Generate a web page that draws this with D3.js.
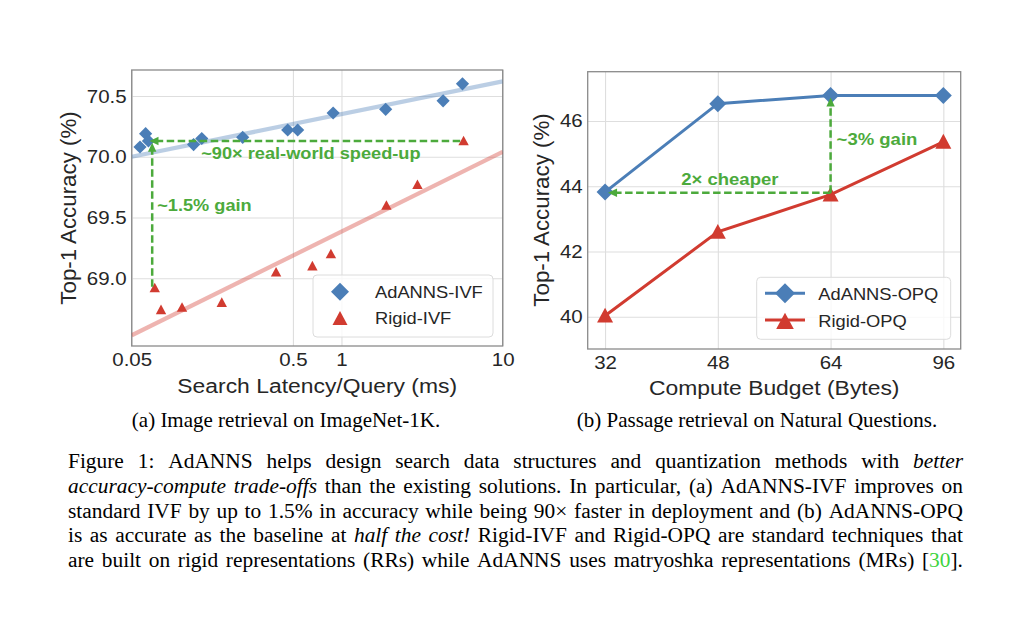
<!DOCTYPE html>
<html><head><meta charset="utf-8">
<script src="https://cdn.jsdelivr.net/npm/d3@7"></script>
<style>body{margin:0;background:#fff}svg{display:block}</style>
</head><body>
<svg id="fig" width="1024" height="623"></svg>
<script>
// ---------- data: (a) ImageNet-1K IVF ----------
const adannsIvfLatency = [0.0563, 0.061, 0.0635, 0.121, 0.136, 0.244, 0.464, 0.535, 0.888, 1.88, 4.27, 5.63];
const adannsIvfAcc     = [70.08, 70.19, 70.13, 70.10, 70.15, 70.16, 70.22, 70.22, 70.36, 70.39, 70.46, 70.60];
const rigidIvfLatency  = [0.0695, 0.076, 0.1026, 0.181, 0.393, 0.66, 0.86, 1.90, 2.96, 5.72];
const rigidIvfAcc      = [68.92, 68.74, 68.76, 68.80, 69.05, 69.10, 69.20, 69.60, 69.77, 70.13];
const trendLatency     = [0.05, 10];
const adannsIvfTrend   = [70.0, 70.62];
const rigidIvfTrend    = [68.53, 70.04];
const latencyTicks     = [0.05, 0.5, 1, 10];
const latencyTickLabels = ["0.05", "0.5", "1", "10"];
const ivfAccTicks      = [69.0, 69.5, 70.0, 70.5];
const ivfSpeedArrow    = {from: [5.45, 70.13], to: [0.0645, 70.13]};
const ivfGainArrow     = {from: [0.067, 68.93], to: [0.067, 70.115]};
// ---------- data: (b) Natural Questions OPQ ----------
const budgets          = [32, 48, 64, 96];
const adannsOpqAcc     = [43.82, 46.53, 46.78, 46.78];
const rigidOpqAcc      = [40.03, 42.60, 43.74, 45.36];
const opqAccTicks      = [40, 42, 44, 46];
const opqCheapArrow    = {from: [64, 43.8], to: [32, 43.8]};
const opqGainArrow     = {from: [64, 43.8], to: [64, 46.78]};
// ---------- text ----------
const seriesNamesA = ["AdANNS-IVF", "Rigid-IVF"];
const seriesNamesB = ["AdANNS-OPQ", "Rigid-OPQ"];
const subCaptions = ["(a) Image retrieval on ImageNet-1K.", "(b) Passage retrieval on Natural Questions."];
const captionLines = [
  [["Figure 1: AdANNS helps design search data structures and quantization methods with ", "n"], ["better", "i"]],
  [["accuracy-compute trade-offs", "i"], [" than the existing solutions. In particular, (a) AdANNS-IVF improves on", "n"]],
  [["standard IVF by up to 1.5% in accuracy while being 90× faster in deployment and (b) AdANNS-OPQ", "n"]],
  [["is as accurate as the baseline at ", "n"], ["half the cost!", "i"], [" Rigid-IVF and Rigid-OPQ are standard techniques that", "n"]],
  [["are built on rigid representations (RRs) while AdANNS uses matryoshka representations (MRs) [", "n"], ["30", "g"], ["].", "n"]]
];

// ---------- style ----------
const BLUE = "#4b7eb7", RED = "#d13b30", GREEN = "#4caa3c", LINK = "#3fd43f";
const TXT = "#262626", GRID = "#dedede", FRAME = "#8a8a8a";
const SANS = "'Liberation Sans', Arial, sans-serif", SERIF = "'Liberation Serif', 'Times New Roman', serif";
const SX = 1.09;      // horizontal glyph stretch of chart text
const SXS = 1.07;     // horizontal glyph stretch of caption text

const svg = d3.select("#fig");
svg.append("rect").attr("width", 1024).attr("height", 623).attr("fill", "#fff");

function txt(g, x, y, s, o = {}) {
  return g.append("text").attr("transform", `translate(${x},${y}) scale(${o.sx || SX},1)`)
    .attr("text-anchor", o.anchor || "start").attr("font-family", o.family || SANS)
    .attr("font-size", o.fs || 16.8).attr("font-weight", o.bold ? "bold" : null)
    .attr("fill", o.fill || TXT).text(s);
}

// custom marker types for d3.symbol (size = radius)
const symDiamond = {draw(c, r){ c.moveTo(0,-r); c.lineTo(r,0); c.lineTo(0,r); c.lineTo(-r,0); c.closePath(); }};
const symTriangle = {draw(c, r){ c.moveTo(0,-r); c.lineTo(r,r*0.85); c.lineTo(-r,r*0.85); c.closePath(); }};
const diamondPath = r => d3.symbol().type(symDiamond).size(r)();
const trianglePath = r => d3.symbol().type(symTriangle).size(r)();

function frameAndGrid(g, box, xs, ys, xTickVals, xFmt, yTickVals, yFmt, fs) {
  const w = box.x1 - box.x0, h = box.y1 - box.y0;
  const gy = g.append("g").attr("transform", `translate(${box.x0},0)`)
    .call(d3.axisLeft(ys).tickValues(yTickVals).tickFormat(yFmt).tickSizeInner(-w).tickSizeOuter(0).tickPadding(4.6));
  const gx = g.append("g").attr("transform", `translate(0,${box.y1})`)
    .call(d3.axisBottom(xs).tickValues(xTickVals).tickFormat(xFmt).tickSizeInner(-h).tickSizeOuter(0).tickPadding(6.7));
  [gx, gy].forEach(a => {
    a.select(".domain").remove();
    a.selectAll(".tick line").attr("stroke", GRID).attr("stroke-width", 1.1);
    a.selectAll(".tick text").attr("fill", TXT).attr("font-family", SANS).attr("font-size", fs)
      .attr("transform", `scale(${SX},1)`);
  });
  g.append("rect").attr("x", box.x0).attr("y", box.y0).attr("width", w).attr("height", h)
    .attr("fill", "none").attr("stroke", FRAME).attr("stroke-width", 1.3);
}

function arrow(g, p0, p1, shrinkStart, shrinkEnd) {
  const dx = p1[0]-p0[0], dy = p1[1]-p0[1], L = Math.hypot(dx, dy), ux = dx/L, uy = dy/L;
  const a = [p0[0]+ux*shrinkStart, p0[1]+uy*shrinkStart];
  const tip = [p1[0]-ux*shrinkEnd, p1[1]-uy*shrinkEnd];
  const hl = 9, hw = 4.2;
  const base = [tip[0]-ux*hl, tip[1]-uy*hl];
  g.append("line").attr("x1", a[0]).attr("y1", a[1]).attr("x2", base[0]+ux*2).attr("y2", base[1]+uy*2)
    .attr("stroke", GREEN).attr("stroke-width", 2.5).attr("stroke-dasharray", "7.5,3.5");
  g.append("path").attr("d", `M${tip[0]},${tip[1]}L${base[0]-uy*hw},${base[1]+ux*hw}L${base[0]+uy*hw},${base[1]-ux*hw}Z`)
    .attr("fill", GREEN);
}

// ================= (a) =================
const A = {x0: 131.7, x1: 502.7, y0: 70, y1: 346};
const xA = d3.scaleLog().domain([0.05, 10]).range([A.x0, A.x1]);
const yA = d3.scaleLinear().domain([68.442, 70.714]).range([A.y1, A.y0]);
const gA = svg.append("g");
frameAndGrid(gA, A, xA, yA, latencyTicks, (d,i) => latencyTickLabels[i], ivfAccTicks, d3.format(".1f"), 18.8);
gA.append("clipPath").attr("id", "clipA").append("rect")
  .attr("x", A.x0).attr("y", A.y0).attr("width", A.x1-A.x0).attr("height", A.y1-A.y0);
const lineA = d3.line().x(d => xA(d[0])).y(d => yA(d[1]));
gA.append("path").attr("clip-path", "url(#clipA)").attr("d", lineA(d3.zip(trendLatency, adannsIvfTrend)))
  .attr("stroke", BLUE).attr("stroke-opacity", 0.38).attr("stroke-width", 4.2).attr("fill", "none");
gA.append("path").attr("clip-path", "url(#clipA)").attr("d", lineA(d3.zip(trendLatency, rigidIvfTrend)))
  .attr("stroke", RED).attr("stroke-opacity", 0.38).attr("stroke-width", 4.2).attr("fill", "none");
gA.selectAll(".ad").data(d3.zip(adannsIvfLatency, adannsIvfAcc)).join("path")
  .attr("transform", d => `translate(${xA(d[0])},${yA(d[1])})`).attr("d", diamondPath(6.6)).attr("fill", BLUE);
gA.selectAll(".rg").data(d3.zip(rigidIvfLatency, rigidIvfAcc)).join("path")
  .attr("transform", d => `translate(${xA(d[0])},${yA(d[1])})`).attr("d", trianglePath(5.2)).attr("fill", RED);
arrow(gA, [xA(ivfSpeedArrow.from[0]), yA(ivfSpeedArrow.from[1])], [xA(ivfSpeedArrow.to[0]), yA(ivfSpeedArrow.to[1])], 0, 0);
arrow(gA, [xA(ivfGainArrow.from[0]), yA(ivfGainArrow.from[1])], [xA(ivfGainArrow.to[0]), yA(ivfGainArrow.to[1])], 0, 0);
txt(gA, xA(ivfGainArrow.to[0]) + 49, yA(ivfSpeedArrow.to[1]) + 18, "~90× real-world speed-up", {fs: 16.7, bold: true, fill: GREEN});
txt(gA, xA(ivfGainArrow.to[0]) + 5, 210.5, "~1.5% gain", {fs: 16.7, bold: true, fill: GREEN});
txt(gA, (A.x0+A.x1)/2, 393, "Search Latency/Query (ms)", {fs: 21, anchor: "middle"});
gA.append("text").attr("transform", "translate(75.5,208) rotate(-90)").attr("text-anchor", "middle")
  .attr("font-family", SANS).attr("font-size", 22.3).attr("fill", TXT).text("Top-1 Accuracy (%)");
const legA = gA.append("g");
legA.append("rect").attr("x", 313).attr("y", 275).attr("width", 180).attr("height", 62).attr("rx", 4)
  .attr("fill", "#fff").attr("fill-opacity", 0.8).attr("stroke", "#dcdcdc").attr("stroke-width", 1);
legA.append("path").attr("transform", "translate(340,291.7)").attr("d", diamondPath(9)).attr("fill", BLUE);
legA.append("path").attr("transform", "translate(340,318.5)").attr("d", trianglePath(7.5)).attr("fill", RED);
seriesNamesA.forEach((n, i) => txt(legA, 375, 298.3 + i*25.5, n, {fs: 16.8}));

// ================= (b) =================
const B = {x0: 587.7, x1: 960.7, y0: 71.7, y1: 349};
const xB = d3.scaleLinear().domain([-0.154, 3.154]).range([B.x0, B.x1]);
const bx = v => xB(budgets.indexOf(v));
const yB = d3.scaleLinear().domain([39.01, 47.51]).range([B.y1, B.y0]);
const gB = svg.append("g");
frameAndGrid(gB, B, xB, yB, d3.range(budgets.length), i => budgets[i], opqAccTicks, d3.format("d"), 18.8);
const lineB = d3.line().x(d => bx(d[0])).y(d => yB(d[1]));
gB.append("path").attr("d", lineB(d3.zip(budgets, adannsOpqAcc))).attr("stroke", BLUE).attr("stroke-width", 3).attr("fill", "none");
gB.append("path").attr("d", lineB(d3.zip(budgets, rigidOpqAcc))).attr("stroke", RED).attr("stroke-width", 3).attr("fill", "none");
gB.selectAll(".ad").data(d3.zip(budgets, adannsOpqAcc)).join("path")
  .attr("transform", d => `translate(${bx(d[0])},${yB(d[1])})`).attr("d", diamondPath(8.5)).attr("fill", BLUE);
gB.selectAll(".rg").data(d3.zip(budgets, rigidOpqAcc)).join("path")
  .attr("transform", d => `translate(${bx(d[0])},${yB(d[1])})`).attr("d", trianglePath(8)).attr("fill", RED);
arrow(gB, [bx(opqCheapArrow.from[0]), yB(opqCheapArrow.from[1])], [bx(opqCheapArrow.to[0]), yB(opqCheapArrow.to[1])], 0, 3);
arrow(gB, [bx(opqGainArrow.from[0]), yB(opqGainArrow.from[1])], [bx(opqGainArrow.to[0]), yB(opqGainArrow.to[1])], 0, 2);
txt(gB, (bx(32)+bx(64))/2 + 12, yB(opqCheapArrow.to[1]) - 8, "2× cheaper", {fs: 17, bold: true, fill: GREEN, anchor: "middle"});
txt(gB, bx(64) + 6, 145, "~3% gain", {fs: 17, bold: true, fill: GREEN});
txt(gB, (B.x0+B.x1)/2, 395, "Compute Budget (Bytes)", {fs: 21, anchor: "middle"});
gB.append("text").attr("transform", "translate(548.5,210) rotate(-90)").attr("text-anchor", "middle")
  .attr("font-family", SANS).attr("font-size", 22.3).attr("fill", TXT).text("Top-1 Accuracy (%)");
const legB = gB.append("g");
legB.append("rect").attr("x", 756.7).attr("y", 277.3).attr("width", 194).attr("height", 62).attr("rx", 4)
  .attr("fill", "#fff").attr("fill-opacity", 0.8).attr("stroke", "#dcdcdc").attr("stroke-width", 1);
[[BLUE, diamondPath(10)], [RED, trianglePath(8.8)]].forEach(([c, p], i) => {
  const yy = 293.3 + i*26.7;
  legB.append("line").attr("x1", 765).attr("x2", 805).attr("y1", yy).attr("y2", yy).attr("stroke", c).attr("stroke-width", 3);
  legB.append("path").attr("transform", `translate(785,${yy + (i ? 1.5 : 0)})`).attr("d", p).attr("fill", c);
  txt(legB, 818.3, yy + 6.8, seriesNamesB[i], {fs: 16.8});
});

// ================= captions =================
txt(svg, 286, 427, subCaptions[0], {family: SERIF, fs: 20, sx: 1.05, anchor: "middle", fill: "#000"});
txt(svg, 757, 427, subCaptions[1], {family: SERIF, fs: 20, sx: 1.05, anchor: "middle", fill: "#000"});

function justifyLine(g, segs, x0, x1, y, fs) {
  const words = []; let cur = [];
  segs.forEach(([t, st]) => {
    t.split(" ").forEach((p, i) => {
      if (i > 0) { if (cur.length) words.push(cur); cur = []; }
      if (p.length) cur.push([p, st]);
    });
  });
  if (cur.length) words.push(cur);
  const ws = words.map(w => {
    const t = g.append("text").attr("font-family", SERIF).attr("font-size", fs).attr("fill", "#000");
    w.forEach(([p, st]) => t.append("tspan").text(p)
      .attr("font-style", st === "i" ? "italic" : null).attr("fill", st === "g" ? LINK : null));
    return {t, w: t.node().getComputedTextLength() * SXS};
  });
  const gap = (x1 - x0 - d3.sum(ws, d => d.w)) / (ws.length - 1);
  let x = x0;
  ws.forEach(d => { d.t.attr("transform", `translate(${x},${y}) scale(${SXS},1)`); x += d.w + gap; });
}
const gC = svg.append("g");
captionLines.forEach((segs, i) => justifyLine(gC, segs, 68, 963, 468.3 + i*24.6, 20));
</script>
</body></html>
